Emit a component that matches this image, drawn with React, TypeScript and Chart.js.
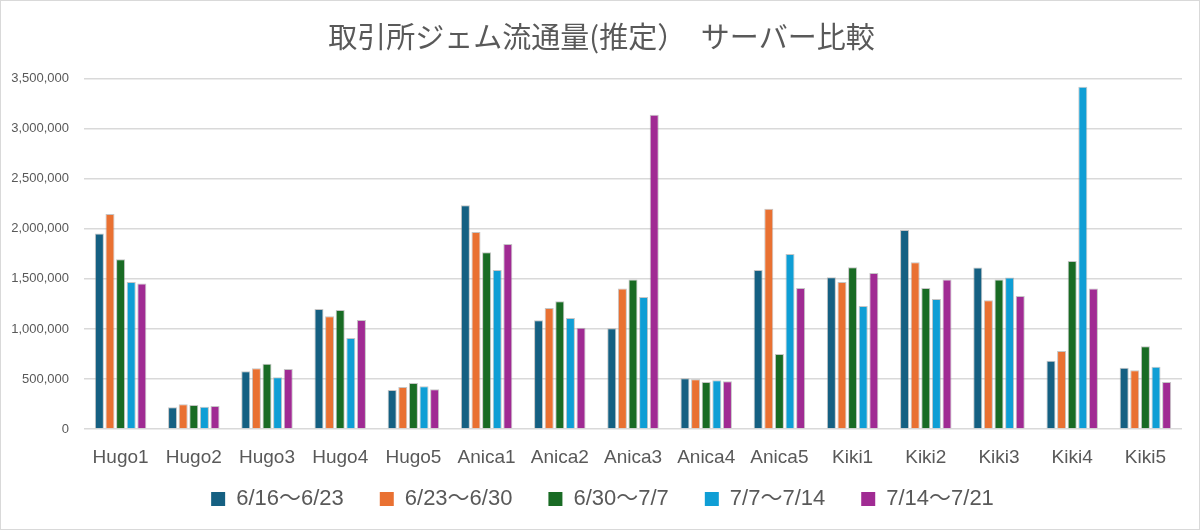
import React, { useEffect, useRef } from "react";
import { Chart, registerables } from "chart.js";

Chart.register(...registerables);

const TITLE = "取引所ジェム流通量(推定）　サーバー比較";

const servers = [
  "Hugo1", "Hugo2", "Hugo3", "Hugo4", "Hugo5",
  "Anica1", "Anica2", "Anica3", "Anica4", "Anica5",
  "Kiki1", "Kiki2", "Kiki3", "Kiki4", "Kiki5",
];

const weekLabels = ["6/16〜6/23", "6/23〜6/30", "6/30〜7/7", "7/7〜7/14", "7/14〜7/21"];

const week1 = [1955000, 217000, 577000, 1200000, 390000, 2237000, 1087000, 1007000, 507000, 1590000, 1517000, 1990000, 1613000, 683000, 613000];
const week2 = [2150000, 247000, 607000, 1127000, 420000, 1970000, 1210000, 1403000, 497000, 2200000, 1470000, 1667000, 1287000, 780000, 587000];
const week3 = [1697000, 240000, 653000, 1190000, 460000, 1767000, 1277000, 1493000, 470000, 750000, 1617000, 1410000, 1493000, 1680000, 827000];
const week4 = [1470000, 223000, 517000, 910000, 427000, 1590000, 1110000, 1320000, 487000, 1750000, 1230000, 1300000, 1513000, 3420000, 623000];
const week5 = [1453000, 230000, 600000, 1090000, 397000, 1850000, 1013000, 3140000, 477000, 1410000, 1560000, 1493000, 1330000, 1403000, 470000];

const weekColors = ["#156082", "#E97132", "#196B24", "#0F9ED5", "#A02B93"];

const yMax = 3500000;
const yStep = 500000;

const TEXT = "#595959";
const FONT = "'Liberation Sans', 'Noto Sans CJK JP', sans-serif";

const LEGEND_GAP = 36;
const LEGEND_TRIM = LEGEND_GAP - 28;
const LEGEND_LIFT = LEGEND_GAP - 19;
const LEGEND_SHIFT = 11;
const TITLE_SHIFT = 10;

// Keeps wide horizontal spacing between legend items without the same amount of
// vertical space, and nudges the title and legend slightly to the right.
const blockOffsets = {
  id: "blockOffsets",
  afterInit(chart: any) {
    const l = chart.legend;
    if (l) {
      const fit = l.fit.bind(l);
      l.fit = () => {
        fit();
        l.height -= LEGEND_TRIM;
      };
    }
  },
  afterLayout(chart: any) {
    const t = chart.titleBlock;
    if (t) {
      t.left += TITLE_SHIFT;
      t.right += TITLE_SHIFT;
    }
    const l = chart.legend;
    if (l) {
      l.top -= LEGEND_LIFT;
      l.bottom -= LEGEND_LIFT;
      l.left += LEGEND_SHIFT;
      l.right += LEGEND_SHIFT;
    }
  },
};

export default function App() {
  const canvasRef = useRef<HTMLCanvasElement | null>(null);

  useEffect(() => {
    const canvas = canvasRef.current;
    if (!canvas) return;
    const series = [week1, week2, week3, week4, week5];
    const chart = new Chart(canvas, {
      type: "bar",
      data: {
        labels: servers,
        datasets: series.map((values, i) => ({
          label: weekLabels[i],
          data: values,
          backgroundColor: weekColors[i],
          borderColor: "rgba(150,150,150,0.55)",
          borderWidth: 1,
          categoryPercentage: 0.725,
          barPercentage: 0.85,
        })),
      },
      plugins: [blockOffsets],
      options: {
        responsive: false,
        animation: false,
        maintainAspectRatio: false,
        layout: { padding: { left: 0, right: 17, top: 0, bottom: 0 } },
        plugins: {
          title: {
            display: true,
            text: TITLE,
            color: TEXT,
            font: { family: "'Noto Sans CJK JP', sans-serif", size: 29, weight: "normal" },
            padding: { top: 19, bottom: 24 },
          },
          legend: {
            position: "bottom",
            labels: {
              color: TEXT,
              font: { family: FONT, size: 22 },
              boxWidth: 14,
              boxHeight: 14,
              padding: LEGEND_GAP,
              generateLabels: (c: any) => {
                const items = Chart.defaults.plugins.legend.labels.generateLabels(c);
                return items.map((it: any) => ({ ...it, lineWidth: 0, strokeStyle: it.fillStyle }));
              },
            },
          },
          tooltip: { enabled: false },
        },
        scales: {
          x: {
            grid: { display: false, drawTicks: false },
            border: { display: false },
            ticks: { color: TEXT, font: { family: FONT, size: 19 }, padding: 17 },
            afterFit: (scale: any) => {
              scale.height = 40;
            },
          },
          y: {
            min: 0,
            max: yMax,
            grid: { color: "#d9d9d9", lineWidth: 1.5, drawTicks: false },
            border: { display: false },
            ticks: {
              stepSize: yStep,
              color: TEXT,
              font: { family: FONT, size: 13 },
              padding: 15,
              callback: (v: any) => Number(v).toLocaleString("en-US"),
            },
            afterFit: (scale: any) => {
              scale.width = 83;
            },
          },
        },
      },
    });
    return () => chart.destroy();
  }, []);

  return (
    <div
      style={{
        position: "fixed",
        left: 0,
        top: 0,
        width: 1200,
        height: 530,
        boxSizing: "border-box",
        border: "1px solid #d9d9d9",
        background: "#ffffff",
      }}
    >
      <canvas ref={canvasRef} width={1198} height={528} style={{ display: "block" }} />
    </div>
  );
}
